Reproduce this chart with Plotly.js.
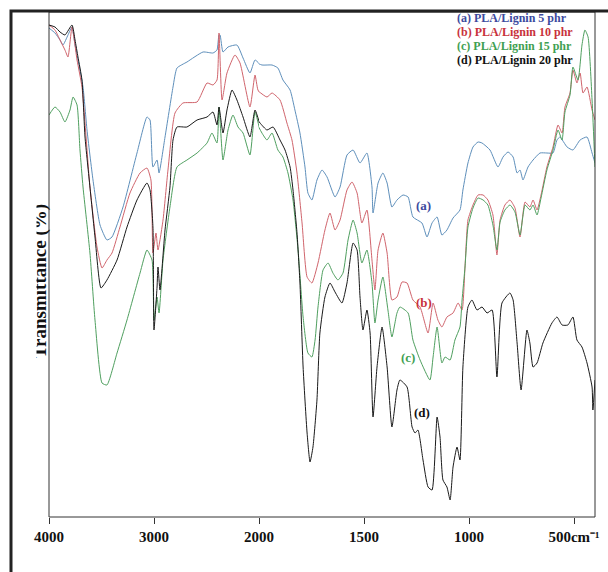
<!DOCTYPE html>
<html>
<head>
<meta charset="utf-8">
<script src="https://cdn.plot.ly/plotly-3.0.1.min.js"></script>
<style>html,body{margin:0;padding:0;background:#fff;}#chart{width:608px;height:572px;}</style>
</head>
<body>
<div id="chart"></div>
<script>
// wavenumber (cm-1) and transmittance readings for each sample
const wnA = [4000,3943,3895,3867,3819,3781,3752,3724,3676,3638,3581,3514,3448,3400,3295,3162,3067,3038,3010,2971,2952,2895,2819,2781,2686,2533,2438,2400,2381,2371,2343,2295,2210,2152,2086,2038,1986,1938,1910,1886,1852,1829,1805,1781,1767,1748,1724,1700,1676,1638,1614,1581,1552,1519,1486,1462,1457,1433,1410,1390,1367,1343,1314,1290,1267,1224,1200,1176,1152,1129,1105,1076,1043,1029,1005,981,957,938,900,862,838,814,790,771,757,743,719,695,662,629,600,581,567,533,505,471,438,414,400];
const tA = [97.8,96.8,95.4,94.4,96.4,98,94.4,91.4,86,77.4,67.4,58.4,55.4,56,62,72.8,80,79.4,70,71.4,68.8,76,86,89.8,91,93,92.8,93.4,96.4,96.4,93,94,94.4,91.8,88.8,91.4,90.4,90.4,89.8,87.4,85.4,81.4,76.8,70,64.8,63.4,67.4,69.4,68,64,66,72.4,73.4,70.8,72.8,66,60.8,66.8,68.8,66.8,62,63.4,64.4,64,60,58.8,56,58.8,60,56.4,57.4,59.8,61.4,65.4,70.8,74,75,74.8,73.4,70,72,73,72,68.8,69.4,67.4,70,71.4,72.8,72.8,72.8,75.4,76,74,73.4,75.4,76,72.8,70.8];

const wnB = [4000,3943,3895,3848,3819,3781,3733,3686,3610,3543,3495,3448,3400,3324,3229,3133,3067,3029,3010,2981,2962,2914,2867,2800,2724,2590,2495,2438,2400,2381,2352,2305,2229,2181,2086,2038,2010,1962,1938,1900,1867,1843,1819,1795,1771,1748,1719,1686,1662,1638,1614,1581,1557,1533,1510,1486,1462,1448,1433,1410,1390,1367,1343,1319,1295,1267,1233,1195,1171,1148,1129,1105,1076,1052,1033,1019,1005,981,957,933,910,886,867,852,829,805,781,757,733,710,695,676,657,629,600,576,557,543,519,505,486,471,457,438,414,400];
const tB = [98.4,97.4,95.4,93.4,92,98,91.4,86,66,54,49.8,51.4,52.8,58,64.8,68.8,69.8,67.4,52.8,56.8,53.4,59.4,69.4,80.8,82.8,83,86.8,86.4,87.4,96.8,83.4,88.8,92.4,90.8,82,88.4,85.4,84,84.8,83.4,78.8,75.4,68.8,58.8,48,46.8,50.8,57.4,60.8,57.4,59.4,65.4,67,64.8,58.8,61.4,51.4,45.4,53.4,56.8,52.8,43.4,44,47,46.8,43.4,42,36.8,42.8,39.4,38,40,40.8,42.8,41.4,50,59.4,62.4,64.4,64.4,63.4,60.4,52.4,59.4,62.4,63.4,61.8,56,63,62,63.4,61.4,64.4,70,74,78.4,76.8,82,84.8,89.4,86.8,88.8,84.8,86,81.4,79.4];

const wnC = [4000,3943,3895,3848,3800,3771,3733,3705,3676,3610,3562,3495,3448,3352,3257,3133,3067,3019,3000,2971,2952,2914,2848,2781,2686,2590,2495,2448,2400,2381,2343,2295,2248,2200,2152,2086,2038,1986,1962,1938,1910,1886,1862,1838,1814,1790,1767,1748,1733,1719,1695,1671,1648,1624,1600,1576,1552,1533,1510,1486,1462,1448,1433,1410,1386,1367,1343,1329,1290,1267,1233,1186,1171,1152,1129,1114,1090,1067,1043,1033,1019,1005,981,957,933,910,886,867,852,829,805,781,757,733,710,695,676,657,629,600,576,557,543,519,505,481,462,448,433,414,400];
const tC = [80.4,82,81,79,81.4,84,82.4,73.4,66,52.8,39.4,26.8,26.4,32.8,39.4,48.8,53.4,51.4,39.4,44,40.8,51.4,62,70,71.4,72.8,74.8,76.8,74.8,82,71.4,77.4,80.4,78,76.8,72.4,81,76.8,75.4,76.8,73.4,72,68.8,63.4,53.4,40,32.8,32,35.4,42,49.4,50.8,48.8,47.4,48.8,55.4,59.4,56.8,50.8,53.4,46.8,38.8,43.4,48,41.4,36,40.8,42,40.8,35.4,31.4,27.4,32,38,30.8,32,31.4,35.4,38,43.4,50,58,61.8,63.8,63.4,62.4,58.4,53.4,59,61.4,62.4,61,56.4,62.4,61.4,62.4,60.4,63.8,69.4,73.4,77.4,75.4,81,84.4,90,87.4,94.4,97.4,96,83.4,70];

const wnD = [4000,3943,3895,3848,3781,3752,3724,3686,3657,3610,3562,3505,3448,3352,3257,3162,3067,3038,3010,3000,2971,2962,2943,2895,2848,2819,2781,2686,2590,2495,2438,2400,2381,2343,2305,2257,2210,2152,2086,2038,1995,1962,1933,1900,1876,1852,1838,1819,1805,1790,1771,1757,1743,1724,1710,1686,1662,1638,1605,1581,1552,1533,1519,1505,1486,1471,1457,1438,1414,1390,1367,1343,1329,1295,1271,1257,1243,1219,1195,1176,1152,1138,1124,1105,1090,1076,1057,1043,1029,1005,986,962,938,914,890,867,843,805,790,771,752,724,710,695,676,648,605,581,557,529,505,486,462,438,414,410,400];
const tD = [98.4,98,97,96.4,98.4,95.4,92,87.4,76,66,56,45.8,47.4,51.4,58,63.4,66.8,65.4,58,37.4,46,50,45.4,57.4,66,75.4,78,78,79.4,80,81,78.4,82,76.8,81.4,85.4,83.4,80,76,81.4,78.8,77.4,78,75.4,73.4,70,65.4,56.8,46.8,30,16.8,11,14,23.4,36.8,44,46.8,45,42.8,46.8,54.8,53.4,44,37.4,41.4,36.8,20,30,38,30,18,25.4,27.4,26,18,16.8,17.4,11.4,6,5.4,20,16,7.4,6,3.4,10,14,11.4,30,42,43.4,41.4,42,40.8,41.4,28,42.8,44.8,43.4,34.8,25.4,37.4,34.8,30,30.8,34.8,38.8,40,38.4,38.4,40,35.4,34,30.8,26,21.4,27.4];

const seriesNames = ['(a) PLA/Lignin 5 phr','(b) PLA/Lignin 10 phr','(c) PLA/Lignin 15 phr','(d) PLA/Lignin 20 phr'];
const curveTags = ['(a)','(b)','(c)','(d)'];
const tickVals1 = [4000,3000,2000];
const tickVals2 = [1500,1000,500];
const tickText2 = ['1500','1000','500cm\u207B\u00B9'];

const lineColors = ['#5e8fbb','#d0646c','#4f9f5f','#1a1a1a'];
const textColors = ['#3c4a9e','#c8323c','#3fa052','#111111'];

const data = [];
[[wnA,tA],[wnB,tB],[wnC,tC],[wnD,tD]].forEach(([wn,t],i)=>{
  const k = wn.findIndex(v => v < 2000);
  const ln = {color:lineColors[i], width:1, shape:'spline', smoothing:0.5};
  data.push({x: wn.slice(0,k+1), y: t.slice(0,k+1), xaxis:'x', yaxis:'y', type:'scatter', mode:'lines',
    line:ln, showlegend:false, name:seriesNames[i], hoverinfo:'skip'});
  data.push({x: wn.slice(k-1), y: t.slice(k-1), xaxis:'x2', yaxis:'y', type:'scatter', mode:'lines',
    line:ln, showlegend:false, name:seriesNames[i], hoverinfo:'skip'});
});

const serif = 'Liberation Serif, Times New Roman, serif';
const tickFont = {family: serif, size: 15, color: '#111', weight: 'bold'};
const split = 210/546;

const annotations = [];
seriesNames.forEach((n,i)=>{
  annotations.push({xref:'paper', yref:'paper', x:0.7436, y:0.988 - i*0.0277, xanchor:'left', yanchor:'middle',
    text:'<b>'+n+'</b>', showarrow:false, font:{family:serif, size:12, color:textColors[i]}});
});
const tagPos = [[1219,62.4],[1214,43],[1290,32],[1224,21]];
curveTags.forEach((n,i)=>{
  annotations.push({xref:'x2', yref:'y', x:tagPos[i][0], y:tagPos[i][1], text:'<b>'+n+'</b>', showarrow:false,
    font:{family:serif, size:13, color:textColors[i]}});
});
annotations.push({xref:'paper', yref:'paper', x:-0.0165, y:0.467, xanchor:'center', yanchor:'middle',
  text:'<b>Transmittance (%)</b>', textangle:-90, showarrow:false, font:{family:serif, size:19, color:'#111'}});
// white strip that hides the top edge of the axis title, as in the reference scan
annotations.push({xref:'paper', yref:'paper', x:-0.0366, y:0.467, xanchor:'center', yanchor:'middle',
  text:'\u00a0', width:14, height:200, borderpad:0, bgcolor:'#ffffff', showarrow:false, font:{size:10}});

const axBase = {ticks:'outside', ticklen:6, tickcolor:'#333', tickwidth:1, showgrid:false, zeroline:false,
  showline:false, tickfont:tickFont, anchor:'y', fixedrange:true};

const layout = {
  width:608, height:572,
  margin:{l:49, r:13, t:12, b:55},
  paper_bgcolor:'#fff', plot_bgcolor:'#fff',
  showlegend:false,
  xaxis: Object.assign({}, axBase, {domain:[0, split], range:[4000,2000], tickmode:'array', tickvals:tickVals1}),
  xaxis2: Object.assign({}, axBase, {domain:[split, 1], range:[2000,400], tickmode:'array', tickvals:tickVals2, ticktext:tickText2}),
  yaxis: {range:[0,101], showticklabels:false, ticks:'', showgrid:false, zeroline:false, showline:false, fixedrange:true},
  shapes:[
    {type:'rect', xref:'paper', yref:'paper', x0:0, x1:1, y0:0, y1:1, line:{color:'#333', width:1}},
    {type:'rect', xref:'paper', yref:'paper', x0:-0.0696, x1:1.06, y0:-0.2, y1:1.002, line:{color:'#222', width:3}}
  ],
  annotations: annotations
};

Plotly.newPlot('chart', data, layout, {staticPlot:true, displayModeBar:false});
</script>
</body>
</html>
